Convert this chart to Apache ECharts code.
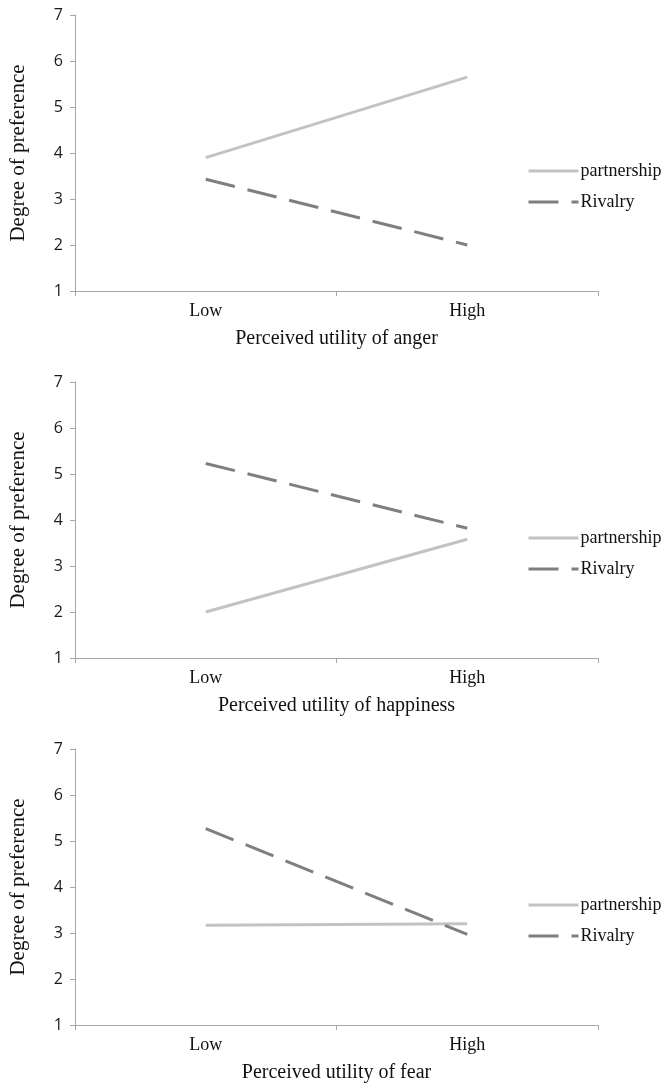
<!DOCTYPE html>
<html>
<head>
<meta charset="utf-8">
<script src="https://cdn.jsdelivr.net/npm/echarts@6/dist/echarts.min.js"></script>
<style>
  html, body { margin: 0; padding: 0; background: #fff; }
  #chart { width: 666px; height: 1089px; }
</style>
</head>
<body>
<div id="chart"></div>
<script>
const categories = ['Low', 'High']
const yTicks = [1, 2, 3, 4, 5, 6, 7]
const panelNames = ['Perceived utility of anger', 'Perceived utility of happiness', 'Perceived utility of fear']
const partnership = [
  [3.9, 5.65],
  [2.0, 3.58],
  [3.17, 3.2],
]
const rivalry = [
  [3.43, 2.0],
  [5.23, 3.82],
  [5.27, 2.97],
]

const serif = 'Liberation Serif'
const tops = [15, 382, 749]
const axisColor = '#a6a6a6'

const chart = echarts.init(document.getElementById('chart'))

const grid = tops.map(t => ({ left: 73, top: t, width: 525, height: 276 }))

const xAxis = panelNames.map((name, i) => ({
  type: 'category',
  gridIndex: i,
  data: categories,
  name: name,
  nameLocation: 'middle',
  nameGap: 38,
  nameTextStyle: { fontFamily: serif, fontSize: 20, color: '#111' },
  axisLine: { lineStyle: { color: axisColor, width: 1 } },
  axisTick: { show: true, length: 5, lineStyle: { color: axisColor } },
  axisLabel: { fontFamily: serif, fontSize: 18, color: '#111', margin: 11 },
}))

const yAxis = panelNames.map((_, i) => ({
  type: 'value',
  gridIndex: i,
  min: yTicks[0],
  max: yTicks[yTicks.length - 1],
  interval: 1,
  name: 'Degree of preference',
  nameLocation: 'middle',
  nameGap: 46,
  nameTextStyle: { fontFamily: serif, fontSize: 21, color: '#111' },
  axisLine: { show: true, lineStyle: { color: axisColor, width: 1 } },
  axisTick: { show: true, length: 5, lineStyle: { color: axisColor } },
  axisLabel: { fontFamily: 'Open Sans', fontSize: 16, color: '#1a1a1a', margin: 12 },
  splitLine: { show: false },
}))

const series = []
panelNames.forEach((_, i) => {
  series.push({
    name: 'partnership',
    type: 'line',
    xAxisIndex: i,
    yAxisIndex: i,
    data: partnership[i],
    symbol: 'none',
    lineStyle: { color: '#c3c3c3', width: 3 },
    itemStyle: { color: '#c3c3c3' },
    z: 2,
  })
  series.push({
    name: 'Rivalry',
    type: 'line',
    xAxisIndex: i,
    yAxisIndex: i,
    data: rivalry[i],
    symbol: 'none',
    lineStyle: { color: '#7f7f7f', width: 3, type: [30, 13] },
    itemStyle: { color: '#7f7f7f' },
    z: 3,
  })
})

const legend = tops.map(t => ({
  orient: 'vertical',
  left: 527,
  top: t + 147,
  padding: 0,
  itemWidth: 50,
  itemHeight: 6,
  itemGap: 13,
  data: ['partnership', 'Rivalry'],
  itemStyle: { opacity: 0 },
  lineStyle: { width: 3 },
  textStyle: { fontFamily: serif, fontSize: 18, color: '#111', padding: [0, 0, 0, -3] },
}))

chart.setOption({
  animation: false,
  grid,
  xAxis,
  yAxis,
  series,
  legend,
})
</script>
</body>
</html>
